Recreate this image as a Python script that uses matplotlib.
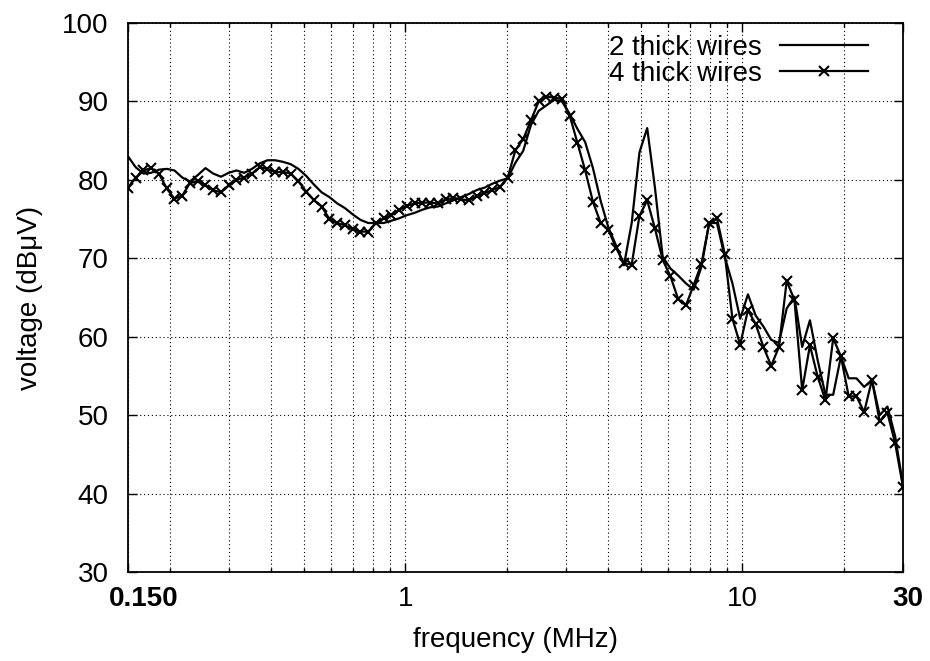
import numpy as np
import matplotlib
matplotlib.use('Agg')
from matplotlib import pyplot as plt
import matplotlib.transforms as mtransforms
from matplotlib.ticker import FixedLocator, NullFormatter

plt.rcParams['font.family'] = ['Liberation Sans', 'DejaVu Sans']

# measurement frequencies (MHz)
freq = [0.1500, 0.1582, 0.1668, 0.1758, 0.1854, 0.1955, 0.2061, 0.2174, 0.2292, 0.2416,
        0.2548, 0.2687, 0.2833, 0.2987, 0.3149, 0.3321, 0.3501, 0.3692, 0.3893, 0.4105,
        0.4328, 0.4564, 0.4812, 0.5074, 0.5350, 0.5641, 0.5948, 0.6271, 0.6613, 0.6972,
        0.7352, 0.7752, 0.8174, 0.8618, 0.9087, 0.9582, 1.0103, 1.0653, 1.1233, 1.1844,
        1.2488, 1.3168, 1.3884, 1.4640, 1.5436, 1.6276, 1.7162, 1.8096, 1.9080, 2.0118,
        2.1213, 2.2367, 2.3584, 2.4868, 2.6221, 2.7648, 2.9152, 3.0738, 3.2411, 3.4174,
        3.6033, 3.7994, 4.0061, 4.2241, 4.4540, 4.6963, 4.9518, 5.2212, 5.5053, 5.8049,
        6.1208, 6.4538, 6.8050, 7.1753, 7.5657, 7.9773, 8.4113, 8.8690, 9.3516, 9.8604,
        10.397, 10.962, 11.559, 12.188, 12.851, 13.550, 14.287, 15.065, 15.884, 16.748,
        17.660, 18.621, 19.634, 20.702, 21.829, 23.017, 24.269, 25.590, 26.982, 28.450,
        30.000]

# 2 thick wires (dBuV)
wires2 = [83.0, 81.6, 80.8, 80.9, 81.3, 81.4, 81.2, 80.3, 79.8, 80.6,
          81.5, 80.8, 80.4, 80.9, 81.2, 80.9, 81.4, 82.1, 82.5, 82.5,
          82.3, 82.0, 81.4, 80.5, 79.4, 78.4, 77.8, 77.0, 76.4, 75.6,
          74.9, 74.5, 74.5, 74.5, 74.8, 75.1, 75.5, 75.8, 76.2, 76.5,
          76.6, 77.0, 77.4, 77.8, 78.2, 78.7, 79.0, 79.5, 79.9, 80.2,
          82.2, 83.7, 87.0, 88.8, 89.5, 90.2, 90.0, 88.4, 86.5, 84.8,
          81.5, 77.3, 73.9, 71.6, 69.1, 74.5, 83.5, 86.6, 79.0, 70.2,
          68.7, 67.8, 66.8, 66.0, 68.9, 74.5, 74.5, 70.2, 66.8, 62.3,
          65.4, 62.7, 61.3, 59.6, 59.2, 63.6, 65.1, 58.7, 62.1, 57.0,
          52.6, 52.6, 57.5, 54.7, 54.7, 53.6, 54.5, 50.0, 51.1, 47.3,
          41.1]

# 4 thick wires (dBuV)
wires4 = [79.0, 80.3, 81.2, 81.5, 80.8, 78.9, 77.6, 78.0, 79.6, 79.8,
          79.3, 78.7, 78.4, 79.3, 80.0, 80.3, 80.8, 81.6, 81.4, 81.0,
          81.0, 80.8, 79.8, 78.5, 77.4, 76.6, 75.0, 74.5, 74.2, 73.7,
          73.4, 73.4, 74.5, 75.1, 75.5, 76.2, 76.7, 77.0, 77.1, 77.1,
          77.0, 77.5, 77.7, 77.5, 77.4, 77.9, 78.3, 78.7, 79.1, 80.3,
          83.8, 85.2, 87.6, 90.0, 90.6, 90.5, 90.3, 88.2, 84.7, 81.2,
          77.2, 74.5, 73.6, 71.3, 69.4, 69.2, 75.4, 77.4, 73.8, 69.8,
          67.7, 64.8, 64.0, 66.6, 69.3, 74.5, 75.1, 70.6, 62.3, 59.0,
          63.4, 61.6, 58.7, 56.3, 58.7, 67.1, 64.7, 53.2, 58.9, 54.9,
          51.9, 59.8, 57.5, 52.4, 52.4, 50.4, 54.5, 49.2, 50.3, 46.4,
          40.9]

xticks = [0.15, 1, 10, 30]
xticklabels = ['0.150', '1', '10', '30']
xminor = [0.2, 0.3, 0.4, 0.5, 0.6, 0.7, 0.8, 0.9, 2, 3, 4, 5, 6, 7, 8, 9, 20]
yticks = [30, 40, 50, 60, 70, 80, 90, 100]

fig = plt.figure(figsize=(9.3, 6.61), dpi=100)
ax = fig.add_axes([0.1376, 0.1346, 0.8333, 0.8306])

ax.plot(freq, wires2, color='black', lw=1.6, label='2 thick wires')
ax.plot(freq, wires4, color='black', lw=1.6, marker='x', markersize=6.5,
        markeredgewidth=1.5, label='4 thick wires')

ax.set_xscale('log')
ax.set_xlim(0.15, 30)
ax.set_ylim(30, 100)

ax.set_xticks(xticks)
ax.set_xticklabels(xticklabels)
ax.xaxis.set_minor_locator(FixedLocator(xminor))
ax.xaxis.set_minor_formatter(NullFormatter())
ax.set_yticks(yticks)

ax.tick_params(which='both', direction='in', top=True, right=True, colors='black')
ax.tick_params(axis='y', which='major', length=6.5, width=1.0, labelsize=20, pad=14)
ax.tick_params(axis='x', which='major', length=6.5, width=1.0, labelsize=20, pad=10)
ax.tick_params(axis='x', which='minor', length=3.2, width=1.0)

# first and last x labels look heavier in the original
tl = ax.get_xticklabels()
tl[0].set_fontweight('bold')
tl[-1].set_fontweight('bold')
tl[0].set_transform(tl[0].get_transform() + mtransforms.ScaledTranslation(11 / 72, 0, fig.dpi_scale_trans))
tl[-1].set_transform(tl[-1].get_transform() + mtransforms.ScaledTranslation(3.5 / 72, 0, fig.dpi_scale_trans))

ax.grid(True, which='major', axis='both', color='black', lw=0.8, linestyle=(0, (1, 2.5)))
ax.grid(True, which='minor', axis='x', color='black', lw=0.8, linestyle=(0, (1, 2.5)))

for s in ax.spines.values():
    s.set_linewidth(1.3)

ax.set_xlabel('frequency (MHz)', fontsize=20, labelpad=11)
ax.set_ylabel('voltage (dB\u03bcV)', fontsize=20, labelpad=14)

leg = ax.legend(loc='upper right', bbox_to_anchor=(868 / 930, 1 - 35 / 661),
                bbox_transform=fig.transFigure, frameon=False, fontsize=20,
                markerfirst=False, numpoints=1, handlelength=3.17, handletextpad=0.65,
                borderpad=0, borderaxespad=0, labelspacing=0.0)

plt.savefig('out.png', dpi=100)
